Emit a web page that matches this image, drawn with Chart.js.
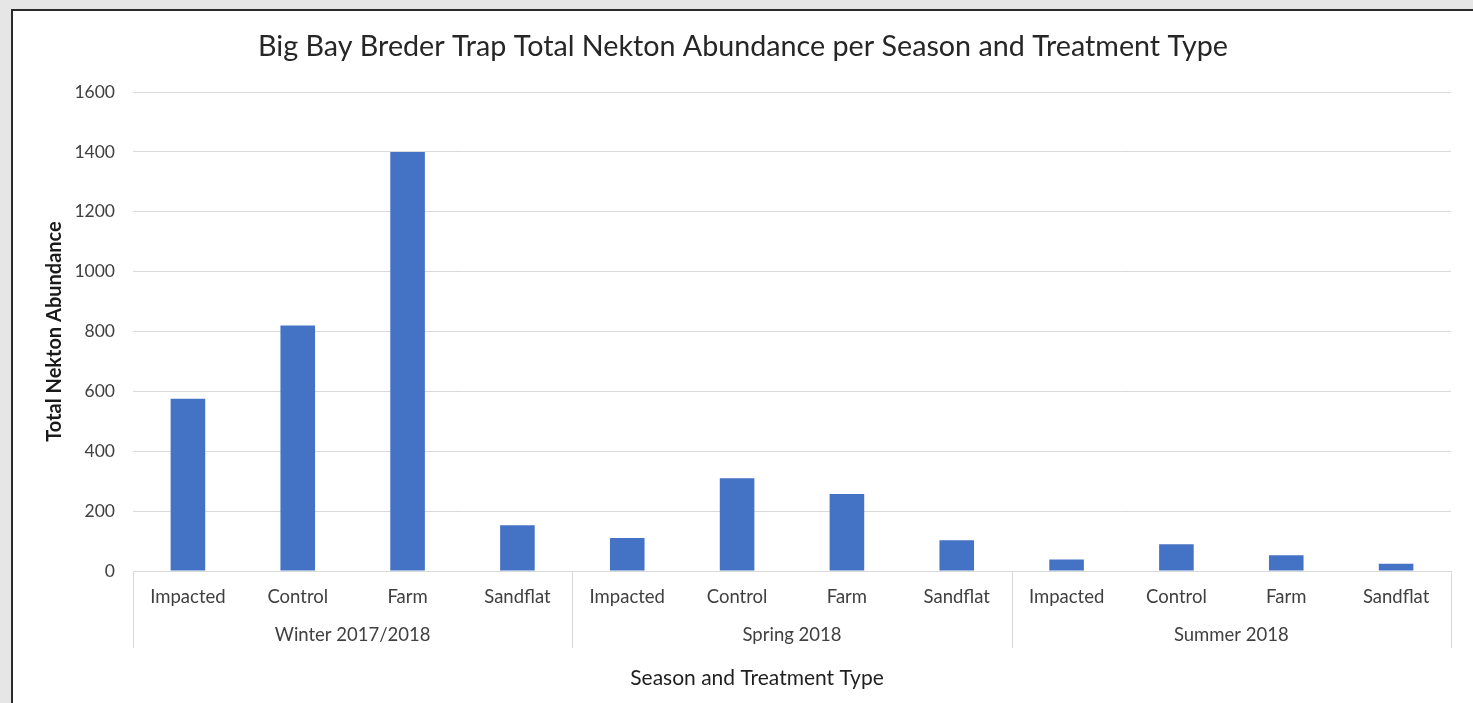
<!DOCTYPE html>
<html>
<head>
<meta charset="utf-8">
<title>Big Bay Breder Trap Total Nekton Abundance</title>
<script src="https://cdn.jsdelivr.net/npm/chart.js@4.4.1/dist/chart.umd.min.js"></script>
<style>
  html, body { margin: 0; padding: 0; width: 1473px; height: 703px; overflow: hidden; background: #e6e6e6; }
  #frame { position: absolute; left: 11px; top: 9px; right: 0; bottom: 0;
           border-left: 2px solid #2b2b2b; border-top: 2px solid #2b2b2b; background: #ffffff; }
  #c { position: absolute; left: 0; top: 0; }
</style>
</head>
<body>
<div id="frame"><canvas id="c" width="1460" height="692"></canvas></div>
<script>
// Seasons (outer axis level) and trap treatment types (inner level)
const seasons = ['Winter 2017/2018', 'Spring 2018', 'Summer 2018'];
const treatments = ['Impacted', 'Control', 'Farm', 'Sandflat'];

// Total nekton abundance per treatment, one array per season
const winterValues = [575, 820, 1400, 153];
const springValues = [110, 310, 257, 103];
const summerValues = [38, 89, 53, 24];

// Value axis ticks
const yTickMin = 0;
const yTickMax = 1600;
const yTickStep = 200;

const chartTitle = 'Big Bay Breder Trap Total Nekton Abundance per Season and Treatment Type';
const yAxisTitle = 'Total Nekton Abundance';
const xAxisTitle = 'Season and Treatment Type';

const labels = [];
seasons.forEach(() => treatments.forEach(t => labels.push(t)));
const values = [...winterValues, ...springValues, ...summerValues];

const FONT = 'Lato, "Open Sans", sans-serif';
const TEXT = '#404040';
const GRID = '#d9d9d9';

// Draws the season level of the category axis: separators, season names, axis title
const seasonGroups = {
  id: 'seasonGroups',
  afterDraw(chart) {
    const { ctx, chartArea, scales: { x } } = chart;
    const n = treatments.length;
    const step = x.getPixelForValue(1) - x.getPixelForValue(0);
    const bounds = [];
    for (let g = 0; g <= seasons.length; g++) {
      const i = g * n;
      let px;
      if (i === 0) px = x.getPixelForValue(0) - step / 2;
      else if (i >= labels.length) px = x.getPixelForValue(labels.length - 1) + step / 2;
      else px = (x.getPixelForValue(i - 1) + x.getPixelForValue(i)) / 2;
      bounds.push(px);
    }
    ctx.save();
    ctx.strokeStyle = GRID;
    ctx.lineWidth = 1;
    bounds.forEach(b => {
      const xx = Math.round(b) + 0.5;
      ctx.beginPath();
      ctx.moveTo(xx, chartArea.bottom);
      ctx.lineTo(xx, chartArea.bottom + 77);
      ctx.stroke();
    });
    ctx.fillStyle = TEXT;
    ctx.textAlign = 'center';
    ctx.textBaseline = 'middle';
    ctx.font = '18.5px ' + FONT;
    seasons.forEach((s, g) => ctx.fillText(s, (bounds[g] + bounds[g + 1]) / 2, chartArea.bottom + 64));
    ctx.fillStyle = '#1f1f1f';
    ctx.font = '21px ' + FONT;
    ctx.fillText(xAxisTitle, chartArea.left + 624, chartArea.bottom + 107);
    ctx.restore();
  }
};

new Chart(document.getElementById('c'), {
  type: 'bar',
  data: {
    labels: labels,
    datasets: [{
      label: 'Total Nekton Abundance',
      data: values,
      backgroundColor: '#4472c4',
      borderWidth: 0,
      categoryPercentage: 1,
      barPercentage: 0.315
    }]
  },
  options: {
    responsive: false,
    animation: false,
    layout: { padding: 0 },
    plugins: {
      legend: { display: false },
      tooltip: { enabled: false },
      title: {
        display: true,
        text: chartTitle,
        color: '#262626',
        font: { family: FONT, size: 28.7, weight: 'normal' },
        padding: { top: 19, bottom: 27.6 }
      }
    },
    scales: {
      x: {
        type: 'category',
        grid: { display: false },
        border: { display: true, color: GRID, width: 1 },
        ticks: { color: TEXT, font: { family: FONT, size: 18.5 }, padding: 6.5, maxRotation: 0, autoSkip: false },
        afterFit: s => { s.height = 132; }
      },
      y: {
        type: 'linear',
        min: yTickMin,
        max: yTickMax,
        grid: { color: GRID, lineWidth: 1, drawTicks: false },
        border: { display: false },
        ticks: {
          stepSize: yTickStep, color: TEXT, font: { family: FONT, size: 17.5 }, padding: 18,
          callback: v => String(v)
        },
        title: {
          display: true,
          text: yAxisTitle,
          color: '#1a1a1a',
          font: { family: FONT, size: 20, weight: 'bold' },
          padding: { top: 30, bottom: 0 }
        },
        afterFit: s => { s.width = 120; }
      },
      yRight: {
        type: 'linear',
        position: 'right',
        grid: { display: false },
        border: { display: false },
        ticks: { display: false },
        afterFit: s => { s.width = 22; }
      }
    }
  },
  plugins: [seasonGroups]
});
</script>
</body>
</html>
